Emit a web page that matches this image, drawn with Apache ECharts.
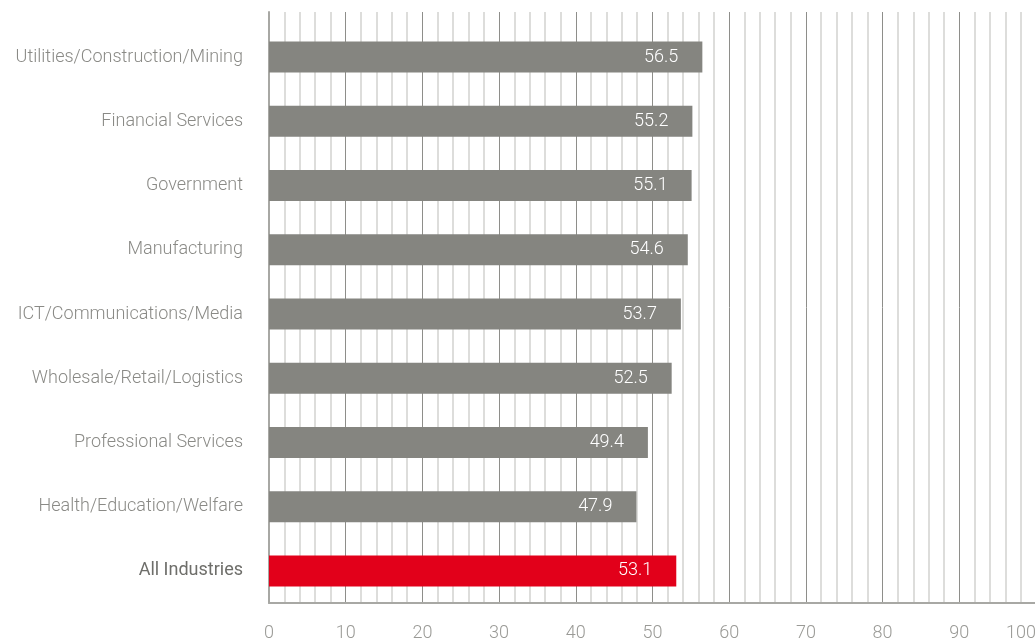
<!DOCTYPE html>
<html>
<head>
<meta charset="utf-8">
<script src="https://cdn.jsdelivr.net/npm/echarts@6/dist/echarts.min.js"></script>
<style>
  html, body { margin: 0; padding: 0; background: #fff; }
  #chart { width: 1035px; height: 644px; }
</style>
</head>
<body>
<div id="chart"></div>
<script>
// Industry scores, top to bottom
const industries = [
  'Utilities/Construction/Mining',
  'Financial Services',
  'Government',
  'Manufacturing',
  'ICT/Communications/Media',
  'Wholesale/Retail/Logistics',
  'Professional Services',
  'Health/Education/Welfare',
  'All Industries'
];
const scores = [56.5, 55.2, 55.1, 54.6, 53.7, 52.5, 49.4, 47.9, 53.1];
const highlight = 'All Industries';

const FONT = 'Roboto';
const GREY_BAR = '#858580';
const RED_BAR = '#e2001a';

const chart = echarts.init(document.getElementById('chart'), null, { renderer: 'canvas' });

// Categories listed bottom-up for the category axis
const cats = industries.slice().reverse();
const vals = scores.slice().reverse();

chart.setOption({
  animation: false,
  grid: [
    // grid 0: gridlines, value axis and left axis line
    { left: 269, right: -1, top: 12, bottom: 41, outerBoundsMode: 'none' },
    // grid 1: bars and category labels
    { left: 269, right: -1, top: 25, bottom: 41, outerBoundsMode: 'none' }
  ],
  xAxis: [
    {
      gridIndex: 0, type: 'value', min: 0, max: 100, interval: 10,
      axisLine: { show: true, lineStyle: { color: '#a8a8a4', width: 2 } },
      axisTick: { show: false },
      axisLabel: {
        margin: 21, color: '#9a9a96', fontFamily: FONT, fontWeight: 300, fontSize: 18,
        alignMaxLabel: 'right'
      },
      splitLine: { show: true, lineStyle: { color: '#8e8e8a', width: 1 } },
      minorTick: { show: false, splitNumber: 5 },
      minorSplitLine: { show: true, lineStyle: { color: '#d2d2d0', width: 1.5 } }
    },
    {
      gridIndex: 1, type: 'value', min: 0, max: 100, show: false
    }
  ],
  yAxis: [
    {
      gridIndex: 0, type: 'value', min: 0, max: 1,
      axisLine: { show: true, lineStyle: { color: '#a8a8a4', width: 2 } },
      axisTick: { show: false }, axisLabel: { show: false }, splitLine: { show: false }
    },
    {
      gridIndex: 1, type: 'category', data: cats,
      axisLine: { show: false }, axisTick: { show: false }, splitLine: { show: false },
      axisLabel: {
        margin: 26, fontFamily: FONT, fontSize: 18,
        formatter: v => v === highlight ? '{b|' + v + '}' : '{n|' + v + '}',
        rich: {
          n: { color: '#8a8a86', fontFamily: FONT, fontWeight: 300, fontSize: 18 },
          b: { color: '#6e6e6a', fontFamily: FONT, fontWeight: 400, fontSize: 18 }
        }
      }
    }
  ],
  series: [{
    type: 'bar',
    xAxisIndex: 1, yAxisIndex: 1,
    barWidth: 31,
    data: vals.map((v, i) => ({
      value: v,
      itemStyle: { color: cats[i] === highlight ? RED_BAR : GREY_BAR }
    })),
    label: {
      show: true, position: 'insideRight', distance: 24,
      color: '#ffffff', fontFamily: FONT, fontWeight: 300, fontSize: 18,
      formatter: p => p.value.toFixed(1)
    }
  }]
});
</script>
</body>
</html>
